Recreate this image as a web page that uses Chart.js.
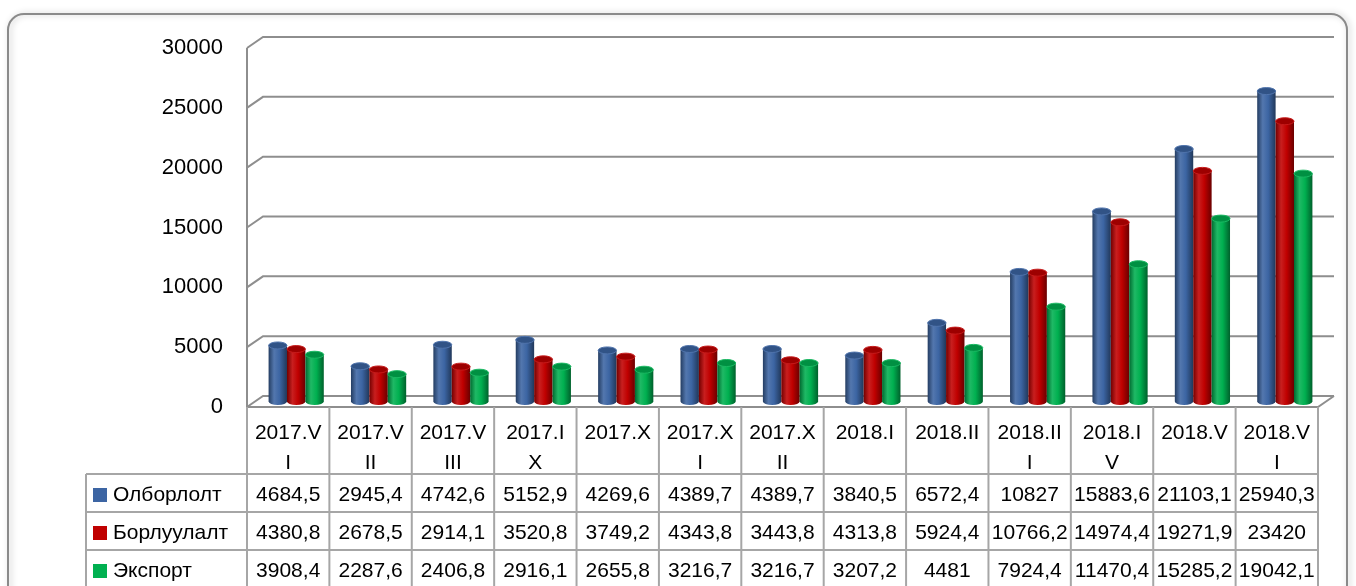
<!DOCTYPE html>
<html>
<head>
<meta charset="utf-8">
<script src="https://cdn.jsdelivr.net/npm/chart.js@4"></script>
<style>
	body { margin: 0; background: #fff; }
	#wrap { width: 1356px; height: 586px; }
</style>
</head>
<body>
<div id="wrap"><canvas id="chart"></canvas></div>
<script>
	// category labels, split the same way the table header wraps them
	let categories = [
		['2017.V', 'I'], ['2017.V', 'II'], ['2017.V', 'III'], ['2017.I', 'X'], ['2017.X'],
		['2017.X', 'I'], ['2017.X', 'II'], ['2018.I'], ['2018.II'], ['2018.II', 'I'],
		['2018.I', 'V'], ['2018.V'], ['2018.V', 'I']
	];
	let seriesNames = ['Олборлолт', 'Борлуулалт', 'Экспорт'];
	let olborlolt = [4684.5, 2945.4, 4742.6, 5152.9, 4269.6, 4389.7, 4389.7, 3840.5, 6572.4, 10827, 15883.6, 21103.1, 25940.3];
	let borluulalt = [4380.8, 2678.5, 2914.1, 3520.8, 3749.2, 4343.8, 3443.8, 4313.8, 5924.4, 10766.2, 14974.4, 19271.9, 23420];
	let eksport = [3908.4, 2287.6, 2406.8, 2916.1, 2655.8, 3216.7, 3216.7, 3207.2, 4481, 7924.4, 11470.4, 15285.2, 19042.1];
	let seriesColors = ['#3c65a3', '#c00000', '#00b050'];
	let yTicks = [0, 5000, 10000, 15000, 20000, 25000, 30000];

	const FONT = "'Liberation Sans', Arial, sans-serif";
	const DEPTH_X = 16;
	const DEPTH_Y = 11;
	const LINE = '#8e8e8e';

	/**
	 * lighten (f > 1) or darken (f < 1) a hex colour
	 */
	function shade(hex, f) {
		let n = parseInt(hex.slice(1), 16);
		let c = v => Math.max(0, Math.min(255, Math.round(f >= 1 ? v + (255 - v) * (f - 1) : v * f)));
		return 'rgb(' + c((n >> 16) & 255) + ',' + c((n >> 8) & 255) + ',' + c(n & 255) + ')';
	}

	/**
	 * one cylinder standing on base, top at y
	 */
	function drawCylinder(ctx, x, top, base, w, color) {
		let l = x - w / 2, r = x + w / 2, ry = 3.5;
		let grad = ctx.createLinearGradient(l, 0, r, 0);
		grad.addColorStop(0, shade(color, 0.6));
		grad.addColorStop(0.3, shade(color, 1.12));
		grad.addColorStop(0.6, color);
		grad.addColorStop(1, shade(color, 0.55));
		ctx.fillStyle = grad;
		ctx.beginPath();
		ctx.moveTo(l, top);
		ctx.lineTo(l, base);
		ctx.ellipse(x, base, w / 2, ry, 0, Math.PI, 0, true);
		ctx.lineTo(r, top);
		ctx.closePath();
		ctx.fill();

		ctx.beginPath();
		ctx.ellipse(x, top, w / 2, ry, 0, 0, Math.PI * 2);
		ctx.fillStyle = shade(color, 0.82);
		ctx.fill();
		ctx.strokeStyle = shade(color, 1.1);
		ctx.lineWidth = 1;
		ctx.stroke();
	}

	let plugin3d = {
		id: 'plugin3d',
		beforeDraw(chart) {
			let ctx = chart.ctx;
			// outer rounded frame
			ctx.save();
			ctx.shadowColor = 'rgba(0,0,0,0.25)';
			ctx.shadowBlur = 6;
			ctx.shadowOffsetX = 2;
			ctx.strokeStyle = '#8a8a8a';
			ctx.lineWidth = 2;
			ctx.beginPath();
			ctx.roundRect(8, 14, 1339, 620, 16);
			ctx.stroke();
			ctx.restore();
		},
		beforeDatasetsDraw(chart) {
			let ctx = chart.ctx;
			let area = chart.chartArea;
			let y = chart.scales.y;

			// back wall grid with depth
			ctx.save();
			ctx.strokeStyle = LINE;
			ctx.lineWidth = 2;
			yTicks.forEach(v => {
				let yf = y.getPixelForValue(v);
				ctx.beginPath();
				ctx.moveTo(area.left, yf);
				ctx.lineTo(area.left + DEPTH_X, yf - DEPTH_Y);
				ctx.lineTo(area.right + DEPTH_X, yf - DEPTH_Y);
				ctx.stroke();
			});
			// left wall edge and floor front / right edge
			ctx.beginPath();
			ctx.moveTo(area.left, y.getPixelForValue(30000));
			ctx.lineTo(area.left, area.bottom);
			ctx.lineTo(area.right, area.bottom);
			ctx.lineTo(area.right + DEPTH_X, area.bottom - DEPTH_Y);
			ctx.stroke();

			// cylinders sit half way into the depth
			ctx.translate(DEPTH_X / 2, -DEPTH_Y / 2);
			let count = chart.data.labels.length;
			for (let i = 0; i < count; i++) {
				chart.data.datasets.forEach((ds, d) => {
					let bar = chart.getDatasetMeta(d).data[i];
					drawCylinder(ctx, bar.x, bar.y, bar.base, bar.width, ds.backgroundColor);
				});
			}
			ctx.restore();
			return false;
		},
		afterDraw(chart) {
			let ctx = chart.ctx;
			let area = chart.chartArea;
			let count = chart.data.labels.length;
			let colW = (area.right - area.left) / count;
			let headBottom = 474;
			let rowH = 38;
			let rows = chart.data.datasets.length;
			let tableBottom = headBottom + rowH * rows;
			let legendLeft = 86;

			ctx.save();
			ctx.strokeStyle = '#a6a6a6';
			ctx.lineWidth = 2;
			// vertical cell borders
			for (let i = 0; i <= count; i++) {
				let x = area.left + i * colW;
				ctx.beginPath();
				ctx.moveTo(x, area.bottom);
				ctx.lineTo(x, tableBottom + 4);
				ctx.stroke();
			}
			ctx.beginPath();
			ctx.moveTo(legendLeft, headBottom);
			ctx.lineTo(legendLeft, tableBottom + 4);
			ctx.stroke();
			// horizontal row borders
			for (let r = 0; r <= rows; r++) {
				let yy = headBottom + r * rowH;
				ctx.beginPath();
				ctx.moveTo(legendLeft, yy);
				ctx.lineTo(area.right, yy);
				ctx.stroke();
			}

			ctx.fillStyle = '#000';
			ctx.font = '21px ' + FONT;
			ctx.textAlign = 'center';
			ctx.textBaseline = 'middle';
			// header labels
			chart.data.labels.forEach((lab, i) => {
				let cx = area.left + (i + 0.5) * colW;
				lab.forEach((line, k) => ctx.fillText(line, cx, 433 + k * 30));
			});
			// values and legend keys
			chart.data.datasets.forEach((ds, d) => {
				let cy = headBottom + d * rowH + rowH / 2 + 2;
				ds.data.forEach((v, i) => {
					let cx = area.left + (i + 0.5) * colW;
					ctx.fillText(String(v).replace('.', ','), cx, cy);
				});
				ctx.fillStyle = ds.backgroundColor;
				ctx.fillRect(93, cy - 7, 14, 14);
				ctx.fillStyle = '#000';
				ctx.textAlign = 'left';
				ctx.fillText(ds.label, 113, cy);
				ctx.textAlign = 'center';
			});
			ctx.restore();
		}
	};

	let seriesData = [olborlolt, borluulalt, eksport];
	let datasets = seriesNames.map((name, i) => ({
		label: name,
		data: seriesData[i],
		backgroundColor: seriesColors[i]
	}));

	let grapharea = document.getElementById('chart').getContext('2d');
	let myChart = new Chart(grapharea, {
		type: 'bar',
		data: {
			labels: categories,
			datasets: datasets
		},
		options: {
			responsive: true,
			maintainAspectRatio: false,
			animation: false,
			layout: {
				padding: { top: 48, right: 38, bottom: 179, left: 0 }
			},
			datasets: {
				bar: { categoryPercentage: 0.67, barPercentage: 1 }
			},
			plugins: {
				legend: { display: false },
				tooltip: { enabled: false }
			},
			scales: {
				x: { display: false },
				y: {
					min: 0,
					max: 30000,
					afterBuildTicks: scale => { scale.ticks = yTicks.map(v => ({ value: v })); },
					afterFit: scale => { scale.width = 247; },
					ticks: {
						padding: 24,
						color: '#000',
						font: { family: FONT, size: 22 },
						callback: v => String(v)
					},
					grid: { display: false, drawTicks: false },
					border: { display: false }
				}
			}
		},
		plugins: [plugin3d]
	});
</script>
</body>
</html>
